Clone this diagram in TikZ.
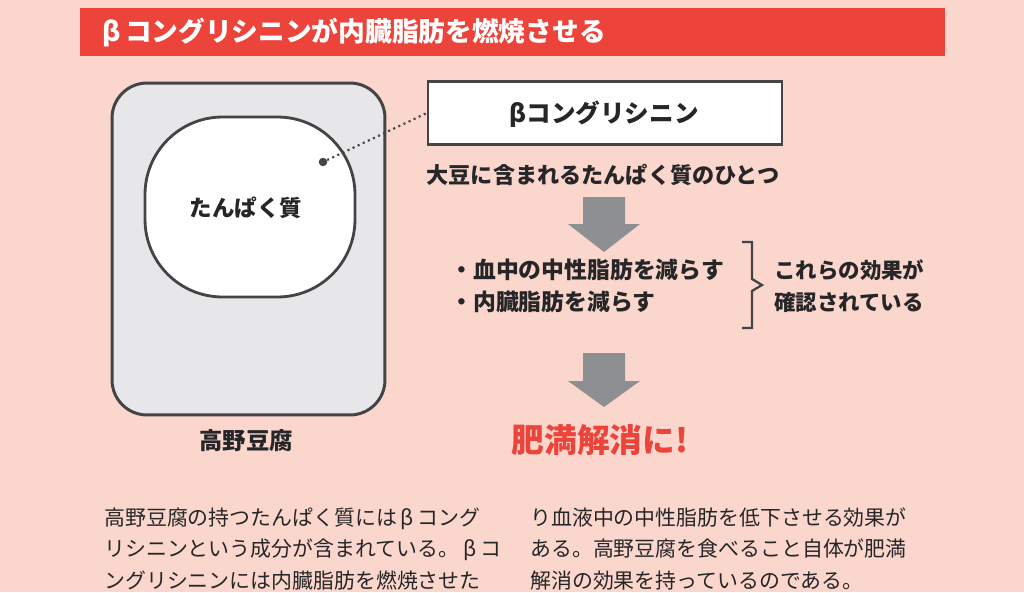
\documentclass[tikz,border=0pt]{standalone}
\usepackage{fontspec}
\setmainfont{Noto Sans CJK JP}
\usetikzlibrary{positioning}

\definecolor{BgPink}{RGB}{250,214,204}
\definecolor{BannerRed}{RGB}{236,67,58}
\definecolor{TofuGray}{RGB}{231,231,234}
\definecolor{LineGray}{RGB}{68,68,70}
\definecolor{ArrowGray}{RGB}{142,143,146}
\definecolor{InkDark}{RGB}{38,38,40}

\newcommand{\wbeta}{\makebox[1em][c]{β}}

\begin{document}
\begin{tikzpicture}
    [
        x=0.02cm, y=-0.02cm,
        Banner/.style={rectangle,fill=BannerRed,minimum width=17.3cm,minimum height=0.96cm,inner sep=0pt},
        Tofu/.style={rectangle,rounded corners=0.7cm,minimum width=5.46cm,minimum height=6.64cm,draw=LineGray,line width=1.7pt,fill=TofuGray},
        Blob/.style={rectangle,rounded corners=1.55cm,minimum width=4.2cm,minimum height=3.6cm,draw=LineGray,line width=1.6pt,fill=white,inner sep=0pt},
        NameBox/.style={rectangle,minimum width=7.08cm,minimum height=1.26cm,draw=LineGray,line width=1.3pt,fill=white},
        Label/.style={text=InkDark,font=\bfseries,inner sep=0pt,align=center},
        Body/.style={text=InkDark,inner sep=0pt,align=left,font=\fontsize{11.9pt}{17.9pt}\selectfont}
    ]
    \fill[BgPink] (0,0) rectangle (1024,592);
    \useasboundingbox (0,0) rectangle (1024,592);

    \node[Banner,anchor=north west] (Banner) at (80,8) {};
    \node[anchor=west,text=white,font=\bfseries\fontsize{15.2pt}{18pt}\selectfont,inner sep=0pt] (Title) at (98,32)
        {\wbeta コングリシニンが内臓脂肪を燃焼させる};

    \node[Tofu] (Tofu) at (248.5,249) {};
    \node[Blob] (Protein) at (250,207) {};
    \node[Label,font=\bfseries\fontsize{12.8pt}{15pt}\selectfont] (ProteinText) at (246,208) {たんぱく質};
    \node[Label,font=\bfseries\fontsize{13.3pt}{16pt}\selectfont] (TofuText) at (246,441) {高野豆腐};
    \node[circle,fill=LineGray,minimum size=0.17cm,inner sep=0pt] (Dot) at (323,162) {};

    \node[NameBox] (Beta) at (605,113) {};
    \node[Label,font=\bfseries\fontsize{14pt}{17pt}\selectfont] (BetaText) at (604,114) {βコングリシニン};
    \draw[LineGray,line width=1.2pt,dotted] (Dot) -- (Beta.west);

    \node[Label,font=\bfseries\fontsize{12.6pt}{15pt}\selectfont] (Soy) at (603,175) {大豆に含まれるたんぱく質のひとつ};

    \fill[ArrowGray] (583,197) -- (625,197) -- (625,224) -- (640,224) -- (604,252) -- (568,224) -- (583,224) -- cycle;

    \node[Label,align=left,anchor=west,font=\bfseries\fontsize{13pt}{18pt}\selectfont] (Effects) at (450,286)
        {・血中の中性脂肪を減らす\\・内臓脂肪を減らす};
    \draw[LineGray,line width=1.3pt] (742,242) -- (752,242) -- (752,279) -- (762,285) -- (752,291) -- (752,328) -- (742,328);
    \node[Label,align=left,anchor=west,font=\bfseries\fontsize{12.2pt}{18pt}\selectfont] (Confirmed) at (774,286)
        {これらの効果が\\確認されている};

    \fill[ArrowGray] (583,353) -- (625,353) -- (625,381) -- (640,381) -- (604,407) -- (568,381) -- (583,381) -- cycle;

    \node[Label,text=BannerRed,font=\bfseries\fontsize{18.6pt}{22pt}\selectfont] (Result) at (600,440) {肥満解消に!};

    \node[Body,anchor=west] (LeftText) at (104,549)
        {高野豆腐の持つたんぱく質には\wbeta コング\\リシニンという成分が含まれている。\wbeta コ\\ングリシニンには内臓脂肪を燃焼させた};
    \node[Body,anchor=west] (RightText) at (530,549)
        {り血液中の中性脂肪を低下させる効果が\\ある。高野豆腐を食べること自体が肥満\\解消の効果を持っているのである。};
\end{tikzpicture}
\end{document}
